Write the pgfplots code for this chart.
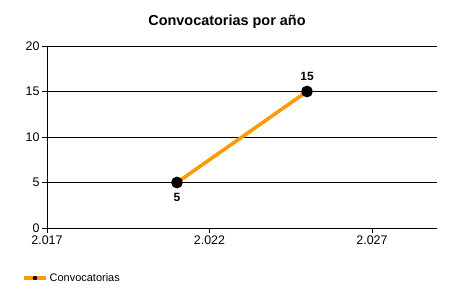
\documentclass[border=0pt]{standalone}
\usepackage{pgfplots}
\pgfplotsset{compat=1.18}
\usepackage{fontspec}
\setmainfont{Liberation Sans}
\definecolor{orangeline}{RGB}{255,153,0}
\begin{document}
\begin{tikzpicture}
\useasboundingbox (-47bp,-72bp) rectangle (403bp,228bp);
\begin{axis}[
  scale only axis,
  width=390bp, height=182bp,
  anchor=south west, at={(0,0)},
  xmin=2017, xmax=2029,
  ymin=0, ymax=20,
  axis lines=left,
  axis line style={-, black, line width=0.9bp},
  xtick={2017,2022,2027},
  xticklabels={2.017,2.022,2.027},
  ytick={0,5,10,15,20},
  ymajorgrids,
  grid style={black, line width=0.9bp},
  tick align=outside,
  major tick length=5bp,
  tick style={black, line width=0.9bp},
  /pgf/number format/assume math mode=true,
  tick label style={font=\fontsize{12.5}{14}\selectfont},
  xticklabel style={yshift=1bp},
  yticklabel style={xshift=1bp},
  title={\fontsize{14.5}{17}\selectfont\bfseries Convocatorias por año},
  title style={at={(0.4615,1)}, yshift=8bp},
  clip=false,
  legend style={at={(-0.064,-0.275)}, anchor=west, draw=none, fill=none,
    font=\fontsize{11}{12}\selectfont, inner sep=0pt,
    legend cell align=left},
]
\addplot[orangeline, line width=3.5bp, mark=*, mark size=4bp,
  mark options={black, fill=black},
  legend image code/.code={
    \draw[orangeline, line width=3.5bp] (0bp,0bp) -- (22bp,0bp);
    \path[fill=black, draw=none, line width=0pt] (11bp,0bp) circle[radius=2.2bp];
  }]
  coordinates {(2021,5) (2025,15)};
\addlegendentry{Convocatorias}
\node[font=\fontsize{12}{13}\selectfont\bfseries, below=7bp] at (axis cs:2021,5) {5};
\node[font=\fontsize{12}{13}\selectfont\bfseries, above=7bp] at (axis cs:2025,15) {15};
\end{axis}
\end{tikzpicture}
\end{document}
